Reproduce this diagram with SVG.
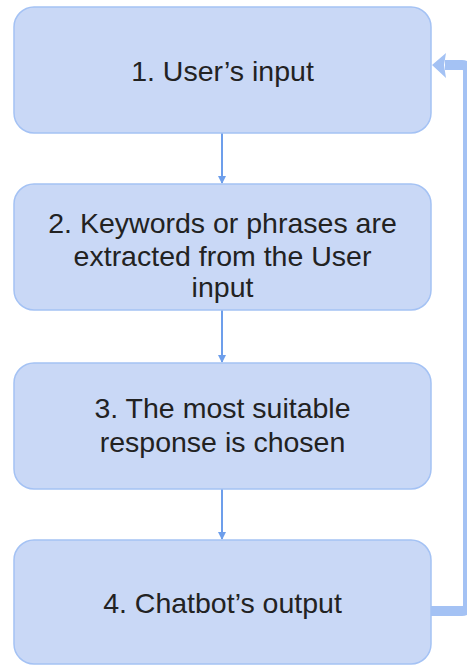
<svg xmlns="http://www.w3.org/2000/svg" width="467" height="666" viewBox="0 0 467 666">
<defs>
<style>
.box{fill:#c9d8f6;stroke:#a4c2f4;stroke-width:1.5}
.t{font-family:"Liberation Sans",Arial,sans-serif;font-size:28.5px;fill:#222;text-anchor:middle}
.arr{stroke:#6d9eeb;stroke-width:2;fill:none}
.fb{stroke:#a4c2f4;stroke-width:10;fill:none;stroke-linejoin:round}
</style>
<marker id="ah" markerWidth="8" markerHeight="8" refX="7" refY="4" orient="auto" markerUnits="userSpaceOnUse">
<path d="M0,0 L8,4 L0,8 Z" fill="#6d9eeb"/>
</marker>
</defs>
<rect width="467" height="666" fill="#fff"/>
<g id="connectors">
<line class="arr" x1="222" y1="133" x2="222" y2="183" marker-end="url(#ah)"/>
<line class="arr" x1="222" y1="310" x2="222" y2="362" marker-end="url(#ah)"/>
<line class="arr" x1="222" y1="489" x2="222" y2="539" marker-end="url(#ah)"/>
<path class="fb" d="M431,611 H462 Q468,611 468,605 V71 Q468,65 462,65 H445"/>
<path d="M432,65 L446,53 L444,65 L446,78 Z" fill="#a4c2f4"/>
</g>
<g id="node1">
<rect class="box" x="14" y="7" width="417" height="126" rx="20"/>
<text class="t" x="222.5" y="81">1. User’s input</text>
</g>
<g id="node2">
<rect class="box" x="14" y="184" width="417" height="126" rx="20"/>
<text class="t" x="222.5" y="233">2. Keywords or phrases are</text>
<text class="t" x="222.5" y="266">extracted from the User</text>
<text class="t" x="222.5" y="297">input</text>
</g>
<g id="node3">
<rect class="box" x="14" y="363" width="417" height="126" rx="20"/>
<text class="t" x="222.5" y="418">3. The most suitable</text>
<text class="t" x="222.5" y="452">response is chosen</text>
</g>
<g id="node4">
<rect class="box" x="14" y="540" width="417" height="124" rx="20"/>
<text class="t" x="222.5" y="613">4. Chatbot’s output</text>
</g>
</svg>
